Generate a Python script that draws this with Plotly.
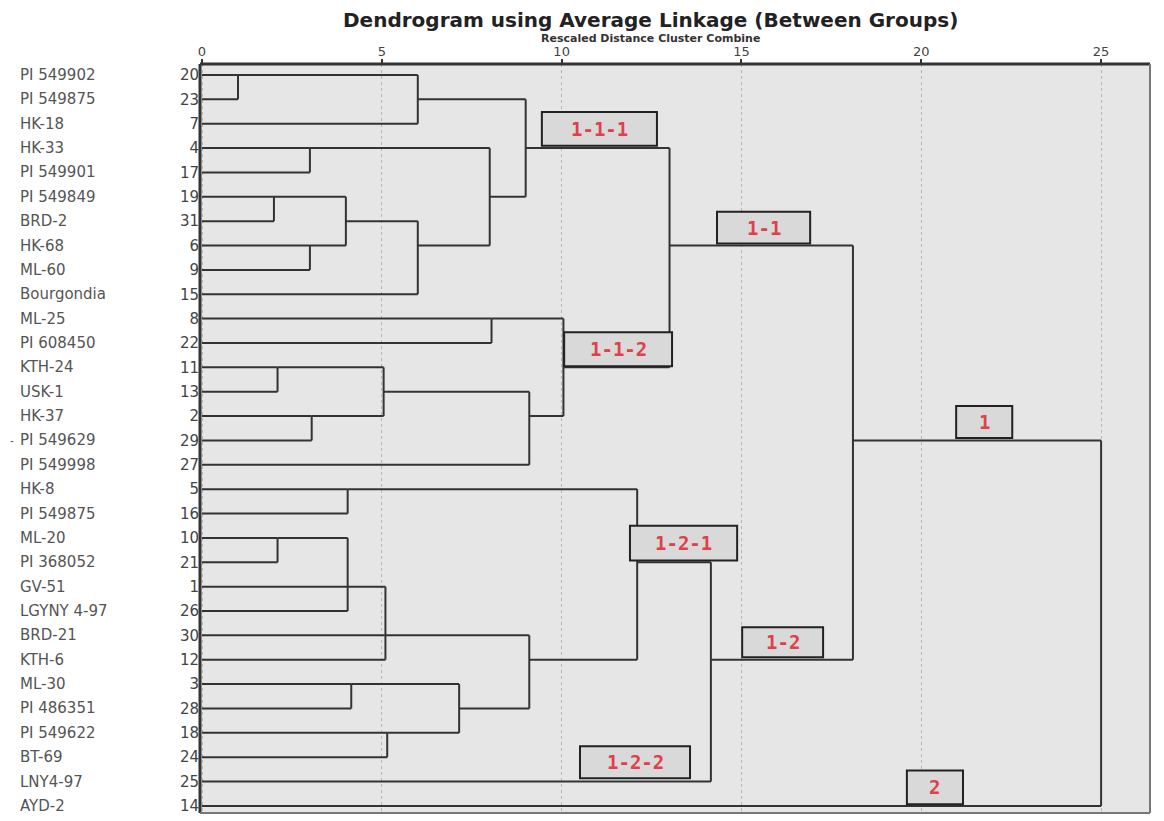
import plotly.graph_objects as go

# ---------------- data ----------------
leaf_labels = ["PI 549902", "PI 549875", "HK-18", "HK-33", "PI 549901", "PI 549849",
               "BRD-2", "HK-68", "ML-60", "Bourgondia", "ML-25", "PI 608450", "KTH-24",
               "USK-1", "HK-37", "PI 549629", "PI 549998", "HK-8", "PI 549875", "ML-20",
               "PI 368052", "GV-51", "LGYNY 4-97", "BRD-21", "KTH-6", "ML-30", "PI 486351",
               "PI 549622", "BT-69", "LNY4-97", "AYD-2"]
case_numbers = [20, 23, 7, 4, 17, 19, 31, 6, 9, 15, 8, 22, 11, 13, 2, 29, 27, 5, 16,
                10, 21, 1, 26, 30, 12, 3, 28, 18, 24, 25, 14]

# merges: (id, children (case numbers or merge ids), rescaled distance)
merge_ids = ["m1", "m2", "m3", "m4", "m5", "m6", "m7", "m8", "m9", "m10", "m11", "m12",
             "m13", "m14", "m15", "m16", "m17", "m18", "m19", "m20", "m21", "m22", "m23",
             "m24", "m25", "m26", "m27", "m28"]
merge_children = [[20, 23], ["m1", 7], [4, 17], [19, 31], [6, 9], ["m4", "m5"], ["m6", 15],
                  ["m3", "m7"], ["m2", "m8"], [8, 22], [11, 13], [2, 29], ["m11", "m12"],
                  ["m13", 27], ["m10", "m14"], ["m9", "m15"], [5, 16], [10, 21],
                  ["m18", 1, 26], ["m19", 30, 12], [3, 28], [18, 24], ["m21", "m22"],
                  ["m20", "m23"], ["m17", "m24"], ["m25", 25], ["m16", "m26"], ["m27", 14]]
merge_distance = [1.0, 6.0, 3.0, 2.0, 3.0, 4.0, 6.0, 8.0, 9.0, 8.05, 2.1, 3.05, 5.05, 9.1,
                  10.05, 13.0, 4.05, 2.1, 4.05, 5.1, 4.15, 5.15, 7.15, 9.1, 12.1, 14.15,
                  18.1, 25.0]

x_ticks = [0, 5, 10, 15, 20, 25]

cluster_names = ["1-1-1", "1-1-2", "1-1", "1-2-1", "1-2", "1-2-2", "1", "2"]

# ---------------- build dendrogram segments ----------------
pos = {}
dist = {}
for i, c in enumerate(case_numbers):
    pos[c] = i + 1
    dist[c] = 0.0

xs, ys = [], []
for mid, children, d in zip(merge_ids, merge_children, merge_distance):
    cpos = [pos[c] for c in children]
    for c in children:
        xs += [dist[c], d, None]
        ys += [pos[c], pos[c], None]
    xs += [d, d, None]
    ys += [min(cpos), max(cpos), None]
    s = sorted(cpos)
    pos[mid] = (s[0] + s[1]) // 2 if len(s) == 2 else s[1]
    dist[mid] = d

rows = list(range(1, len(case_numbers) + 1))

fig = go.Figure()
fig.add_trace(go.Scatter(x=xs, y=ys, mode="lines",
                         line=dict(color="#333333", width=2),
                         hoverinfo="skip", showlegend=False))

# ---------------- layout ----------------
X0, X1 = -0.056, 26.36
Y0, Y1 = 31.29, 0.55

fig.update_layout(
    width=1156, height=813,
    margin=dict(l=192, r=14, t=56, b=6),
    paper_bgcolor="white",
    plot_bgcolor="#e6e6e6",
    showlegend=False,
    font=dict(family="DejaVu Sans", color="#444444"),
)
fig.update_xaxes(range=[X0, X1], side="top", tickvals=x_ticks,
                 ticktext=[str(t) for t in x_ticks],
                 ticks="outside", ticklen=4, tickwidth=2, tickcolor="#333333",
                 ticklabelstandoff=-2,
                 tickfont=dict(size=13, color="#444444", family="DejaVu Sans"),
                 showgrid=True, gridcolor="#b5b5b5", griddash="dot", gridwidth=1,
                 zeroline=False, showline=False)
fig.update_yaxes(range=[Y0, Y1], tickvals=rows, ticktext=[str(c) for c in case_numbers],
                 ticks="", tickfont=dict(size=15, color="#444444", family="DejaVu Sans"),
                 showgrid=False, zeroline=False, showline=False)

shapes = [
    dict(type="line", xref="paper", yref="paper", x0=0, x1=1, y0=1, y1=1,
         line=dict(color="#333333", width=3)),
    dict(type="line", xref="paper", yref="paper", x0=0, x1=0, y0=0, y1=1,
         line=dict(color="#333333", width=3)),
    dict(type="line", xref="paper", yref="paper", x0=1, x1=1, y0=0, y1=1,
         line=dict(color="#777777", width=2)),
    dict(type="line", xref="paper", yref="paper", x0=0, x1=1, y0=0, y1=0,
         line=dict(color="#777777", width=2)),
]

# cluster label boxes (data coords: distance, row)
box_geom = [(9.45, 12.65, 2.52, 3.91), (10.07, 13.07, 11.56, 12.95),
            (14.32, 16.91, 6.61, 7.92), (11.9, 14.88, 19.5, 20.93),
            (15.02, 17.27, 23.67, 24.9), (10.51, 13.57, 28.55, 29.86),
            (20.97, 22.53, 14.59, 15.9), (19.6, 21.16, 29.55, 30.93)]
annotations = []
for name, (bx0, bx1, by0, by1) in zip(cluster_names, box_geom):
    shapes.append(dict(type="rect", xref="x", yref="y", x0=bx0, x1=bx1, y0=by0, y1=by1,
                       fillcolor="#d9d9d9", line=dict(color="#222222", width=2)))
    annotations.append(dict(x=(bx0 + bx1) / 2, y=(by0 + by1) / 2, xref="x", yref="y",
                            text="<b>%s</b>" % name, showarrow=False,
                            font=dict(family="DejaVu Sans Mono", size=19, color="#e0404a")))

for r, lab in zip(rows, leaf_labels):
    annotations.append(dict(x=-0.1916, y=r, xref="paper", yref="y", text=lab,
                            xanchor="left", showarrow=False,
                            font=dict(family="DejaVu Sans", size=15, color="#555555")))
annotations.append(dict(x=-0.2021, y=16, xref="paper", yref="y", text="-",
                        xanchor="left", showarrow=False,
                        font=dict(family="DejaVu Sans", size=11, color="#555555")))

# title (page y≈20) and subtitle (page y≈38.5)
annotations.append(dict(x=0.4737, y=1.0586, xref="paper", yref="paper",
                        text="<b>Dendrogram using Average Linkage (Between Groups)</b>",
                        showarrow=False, yanchor="middle",
                        font=dict(family="DejaVu Sans", size=20, color="#222222")))
annotations.append(dict(x=0.4737, y=1.0340, xref="paper", yref="paper",
                        text="<b>Rescaled Distance Cluster Combine</b>",
                        showarrow=False, yanchor="middle",
                        font=dict(family="DejaVu Sans", size=11, color="#333333")))

fig.update_layout(shapes=shapes, annotations=annotations)
fig.write_html("out.html")
